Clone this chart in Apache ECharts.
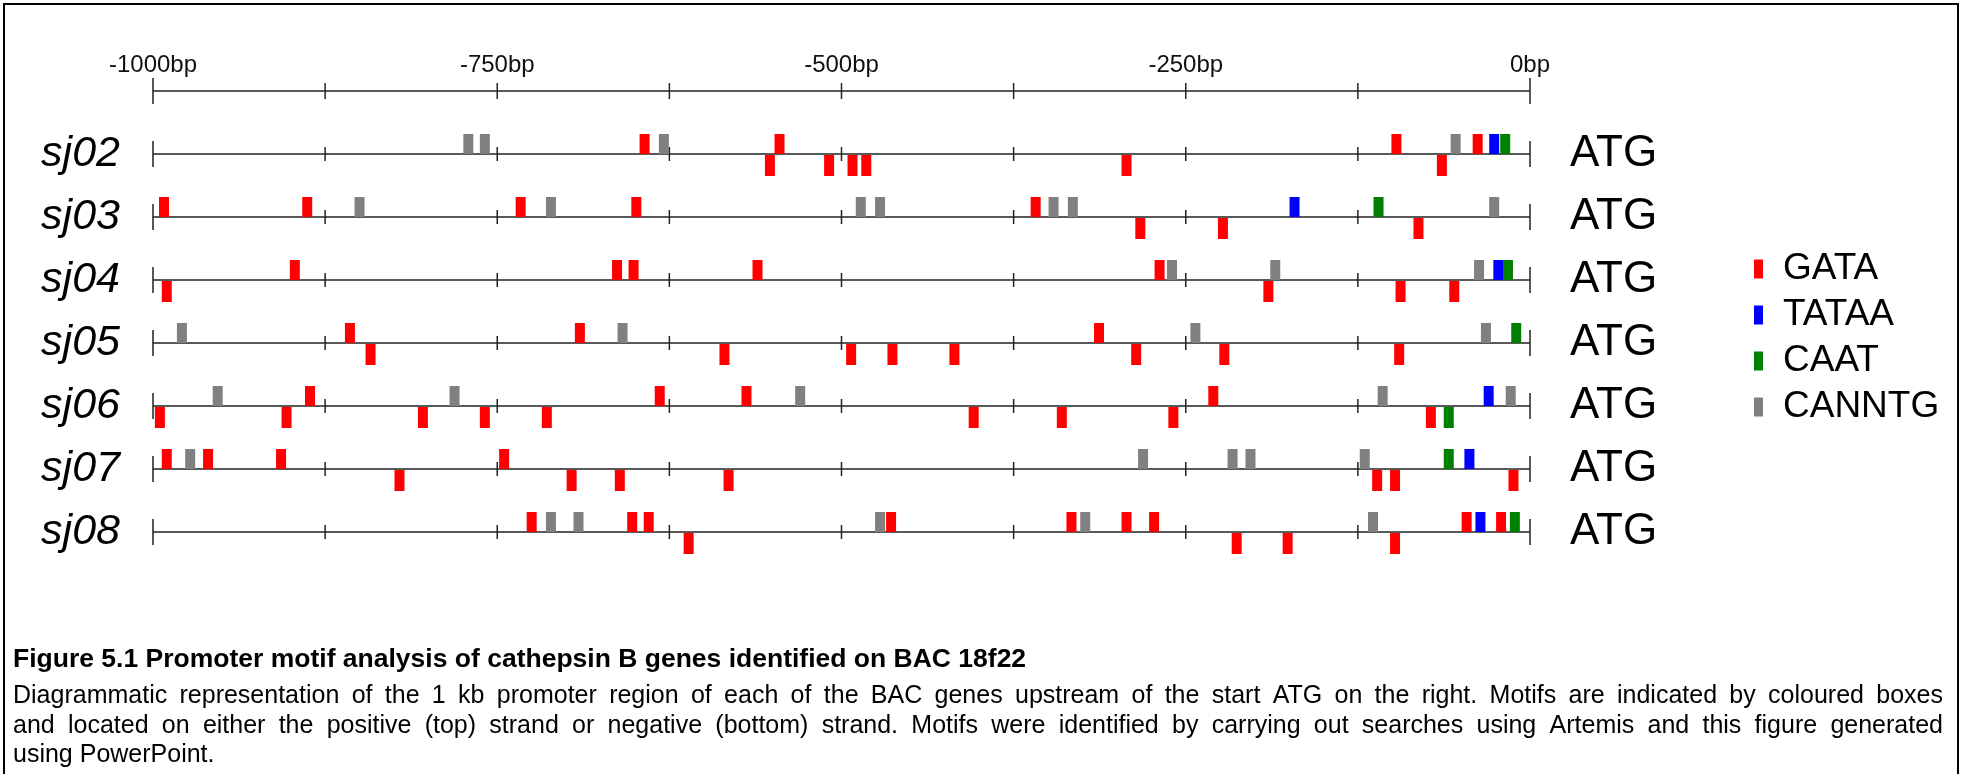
<!DOCTYPE html>
<html>
<head>
<meta charset="utf-8">
<title>Promoter motif analysis</title>
<script src="https://cdn.jsdelivr.net/npm/echarts@6/dist/echarts.min.js"></script>
<style>
	html, body { margin: 0; padding: 0; background: #fff; }
	#chart { width: 1962px; height: 774px; }
</style>
</head>
<body>
<div id="chart"></div>
<script>
// genes (rows), the first row is the bp ruler
var genes = ['', 'sj02', 'sj03', 'sj04', 'sj05', 'sj06', 'sj07', 'sj08'];
// ruler ticks every 125bp
var rulerTicks = [-1000, -875, -750, -625, -500, -375, -250, -125, 0];

// motifs: [gene, position bp, strand (1 = top, -1 = bottom)]
var GATA = [
	['sj02', -643, 1], ['sj02', -552, -1], ['sj02', -545, 1], ['sj02', -509, -1], ['sj02', -492, -1], ['sj02', -482, -1],
	['sj02', -293, -1], ['sj02', -97, 1], ['sj02', -64, -1], ['sj02', -38, 1],
	['sj03', -992, 1], ['sj03', -888, 1], ['sj03', -733, 1], ['sj03', -649, 1], ['sj03', -359, 1], ['sj03', -283, -1],
	['sj03', -223, -1], ['sj03', -81, -1],
	['sj04', -990, -1], ['sj04', -897, 1], ['sj04', -663, 1], ['sj04', -651, 1], ['sj04', -561, 1], ['sj04', -269, 1],
	['sj04', -190, -1], ['sj04', -94, -1], ['sj04', -55, -1],
	['sj05', -857, 1], ['sj05', -842, -1], ['sj05', -690, 1], ['sj05', -585, -1], ['sj05', -493, -1], ['sj05', -463, -1],
	['sj05', -418, -1], ['sj05', -313, 1], ['sj05', -286, -1], ['sj05', -222, -1], ['sj05', -95, -1],
	['sj06', -995, -1], ['sj06', -903, -1], ['sj06', -886, 1], ['sj06', -804, -1], ['sj06', -759, -1], ['sj06', -714, -1],
	['sj06', -632, 1], ['sj06', -569, 1], ['sj06', -404, -1], ['sj06', -340, -1], ['sj06', -259, -1], ['sj06', -230, 1],
	['sj06', -72, -1],
	['sj07', -990, 1], ['sj07', -960, 1], ['sj07', -907, 1], ['sj07', -821, -1], ['sj07', -745, 1], ['sj07', -696, -1],
	['sj07', -661, -1], ['sj07', -582, -1], ['sj07', -111, -1], ['sj07', -98, -1], ['sj07', -12, -1],
	['sj08', -725, 1], ['sj08', -652, 1], ['sj08', -640, 1], ['sj08', -611, -1], ['sj08', -464, 1], ['sj08', -333, 1],
	['sj08', -293, 1], ['sj08', -273, 1], ['sj08', -213, -1], ['sj08', -176, -1], ['sj08', -98, -1], ['sj08', -46, 1],
	['sj08', -21, 1]
];
var TATAA = [
	['sj02', -26, 1], ['sj03', -171, 1], ['sj04', -23, 1], ['sj06', -30, 1], ['sj07', -44, 1], ['sj08', -36, 1]
];
var CAAT = [
	['sj02', -18, 1], ['sj03', -110, 1], ['sj04', -16, 1], ['sj05', -10, 1], ['sj06', -59, -1], ['sj07', -59, 1],
	['sj08', -11, 1]
];
var CANNTG = [
	['sj02', -771, 1], ['sj02', -759, 1], ['sj02', -629, 1], ['sj02', -54, 1],
	['sj03', -850, 1], ['sj03', -711, 1], ['sj03', -486, 1], ['sj03', -472, 1], ['sj03', -346, 1], ['sj03', -332, 1],
	['sj03', -26, 1],
	['sj04', -260, 1], ['sj04', -185, 1], ['sj04', -37, 1],
	['sj05', -979, 1], ['sj05', -659, 1], ['sj05', -243, 1], ['sj05', -32, 1],
	['sj06', -953, 1], ['sj06', -781, 1], ['sj06', -530, 1], ['sj06', -107, 1], ['sj06', -14, 1],
	['sj07', -973, 1], ['sj07', -281, 1], ['sj07', -216, 1], ['sj07', -203, 1], ['sj07', -120, 1],
	['sj08', -711, 1], ['sj08', -691, 1], ['sj08', -472, 1], ['sj08', -323, 1], ['sj08', -114, 1]
];

var motifColors = { GATA: '#ff0000', TATAA: '#0000ff', CAAT: '#008000', CANNTG: '#808080' };

// caption
var captionTitle = 'Figure 5.1 Promoter motif analysis of cathepsin B genes identified on BAC 18f22';
var captionLines = [
	'Diagrammatic representation of the 1 kb promoter region of each of the BAC genes upstream of the start ATG on the right. Motifs are indicated by coloured boxes',
	'and located on either the positive (top) strand or negative (bottom) strand. Motifs were identified by carrying out searches using Artemis and this figure generated',
	'using PowerPoint.'
];

var FONT = '"Liberation Sans", Arial, sans-serif';

// tick marks for every row
var tickData = [];
for (var r = 0; r < genes.length; r++) {
	for (var t = 0; t < rulerTicks.length; t++) {
		tickData.push([rulerTicks[t], r]);
	}
}

function renderTick(params, api) {
	var p = api.coord([api.value(0), api.value(1)]);
	var v = api.value(0);
	var half = (v === -1000 || v === 0) ? 13 : (api.value(1) === 0 ? 8 : 7);
	return {
		type: 'line',
		shape: { x1: p[0], y1: p[1] - half, x2: p[0], y2: p[1] + half },
		style: { stroke: '#222', lineWidth: 1.5 }
	};
}

function renderMotif(params, api) {
	var p = api.coord([api.value(1), api.value(0)]);
	var strand = api.value(2);
	var h = strand > 0 ? 20 : 21;
	return {
		type: 'rect',
		shape: { x: p[0] - 5, y: strand > 0 ? p[1] - h : p[1] + 1, width: 10, height: h },
		style: { fill: api.visual('color') }
	};
}

function motifSeries(name, data) {
	return {
		name: name,
		type: 'custom',
		renderItem: renderMotif,
		encode: { x: 1, y: 0 },
		itemStyle: { color: motifColors[name] },
		data: data,
		z: 3
	};
}

// justify a caption line to a given width using rich text gaps
var measureCtx = document.createElement('canvas').getContext('2d');
function justify(line, width, size) {
	measureCtx.font = size + 'px ' + FONT;
	var words = line.split(' ');
	var w = 0;
	for (var i = 0; i < words.length; i++) w += measureCtx.measureText(words[i]).width;
	var gap = (width - w) / (words.length - 1);
	if (gap < 3) gap = 3;
	return { text: words.join('{g| }'), gap: gap };
}

var chart = echarts.init(document.getElementById('chart'));

var captionSize = 25;
var titles = [{
	text: captionTitle,
	left: 8,
	top: 641,
	textStyle: { fontFamily: FONT, fontSize: 26.5, fontWeight: 'bold', color: '#000' }
}];
var lineTops = [679, 709, 738];
for (var k = 0; k < captionLines.length; k++) {
	var txt = captionLines[k];
	var rich = {};
	if (k < 2) {
		var j = justify(captionLines[k], 1930, captionSize);
		txt = j.text;
		rich = { g: { width: j.gap, fontFamily: FONT, fontSize: captionSize } };
	}
	titles.push({
		text: txt,
		left: 8,
		top: lineTops[k],
		textStyle: { fontFamily: FONT, fontSize: captionSize, fontWeight: 'normal', color: '#000', rich: rich }
	});
}

var option = {
	animation: false,
	backgroundColor: '#fff',
	title: titles,
	graphic: [{
		type: 'rect',
		shape: { x: 4, y: 4, width: 1954, height: 820 },
		style: { fill: null, stroke: '#000', lineWidth: 2 },
		silent: true
	}],
	legend: {
		orient: 'vertical',
		left: 1749,
		top: 244,
		icon: 'rect',
		itemWidth: 9,
		itemHeight: 19,
		itemGap: 6,
		data: ['GATA', 'TATAA', 'CAAT', 'CANNTG'],
		textStyle: { fontFamily: FONT, fontSize: 37, lineHeight: 40, color: '#000', padding: [0, 0, 0, 15] }
	},
	grid: { left: 153, right: 432, top: 91, bottom: 242 },
	xAxis: {
		type: 'value',
		position: 'top',
		min: -1000,
		max: 0,
		interval: 250,
		axisLine: { show: false },
		axisTick: { show: false },
		splitLine: { show: false },
		axisLabel: {
			margin: 14,
			fontFamily: FONT,
			fontSize: 24,
			color: '#111',
			formatter: function (v) { return v + 'bp'; }
		}
	},
	yAxis: [{
		type: 'category',
		data: genes,
		inverse: true,
		boundaryGap: false,
		axisLine: { show: false },
		axisTick: { show: false },
		splitLine: { show: true, lineStyle: { color: '#222', width: 1.5 } },
		axisLabel: {
			margin: 33,
			fontFamily: FONT,
			fontSize: 43,
			fontStyle: 'italic',
			color: '#000',
			padding: [6, 0, 0, 0]
		}
	}, {
		type: 'category',
		data: genes,
		inverse: true,
		boundaryGap: false,
		position: 'right',
		axisLine: { show: false },
		axisTick: { show: false },
		splitLine: { show: false },
		axisLabel: {
			margin: 40,
			fontFamily: FONT,
			fontSize: 44,
			color: '#000',
			padding: [0, 0, 6, 0],
			formatter: function (v) { return v ? 'ATG' : ''; }
		}
	}],
	series: [{
		name: 'ticks',
		type: 'custom',
		renderItem: renderTick,
		data: tickData,
		silent: true,
		z: 2
	},
	motifSeries('GATA', GATA),
	motifSeries('TATAA', TATAA),
	motifSeries('CAAT', CAAT),
	motifSeries('CANNTG', CANNTG)]
};

chart.setOption(option);
</script>
</body>
</html>
